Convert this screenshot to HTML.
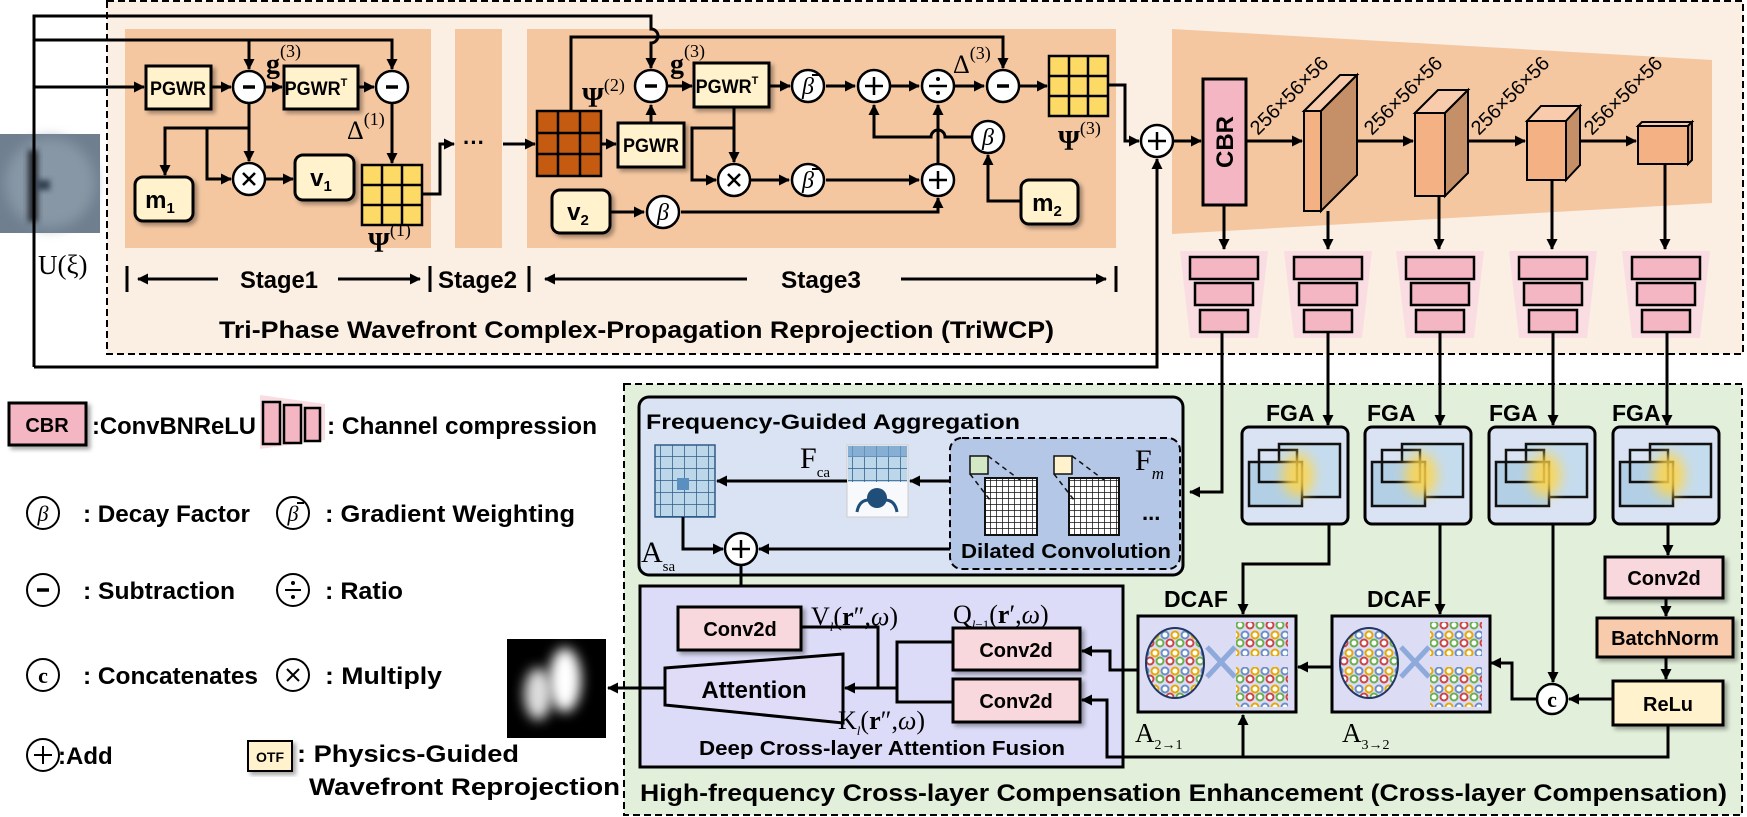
<!DOCTYPE html>
<html><head><meta charset="utf-8"><style>
html,body{margin:0;padding:0;background:#fff}
svg{display:block}
.b{font-family:"Liberation Sans",sans-serif;font-weight:bold}
.s{font-family:"Liberation Serif",serif}
</style></head><body>
<svg width="1747" height="817" viewBox="0 0 1747 817" xmlns="http://www.w3.org/2000/svg">
<defs>
<marker id="a" markerWidth="11" markerHeight="11" refX="10" refY="5.5" orient="auto" markerUnits="userSpaceOnUse"><path d="M0,0 L11,5.5 L0,11 z" fill="#000"/></marker>
<filter id="bl6" x="-50%" y="-50%" width="200%" height="200%"><feGaussianBlur stdDeviation="6"/></filter>
<filter id="bl3" x="-50%" y="-50%" width="200%" height="200%"><feGaussianBlur stdDeviation="3"/></filter>
<filter id="sh" x="-20%" y="-20%" width="140%" height="140%"><feDropShadow dx="3" dy="3" stdDeviation="2" flood-color="#000" flood-opacity="0.35"/></filter>
<pattern id="rings" width="20" height="18" patternUnits="userSpaceOnUse">
<rect width="20" height="18" fill="#dcdcf5"/>
<circle cx="5" cy="5" r="3.5" fill="#fff" stroke="#6b8fc4" stroke-width="2"/>
<circle cx="15" cy="5" r="3.5" fill="#fff" stroke="#e8a800" stroke-width="2"/>
<circle cx="10" cy="13" r="3.5" fill="#fff" stroke="#cc4444" stroke-width="2"/>
<circle cx="0" cy="13" r="3.5" fill="#fff" stroke="#6ab04c" stroke-width="2"/>
<circle cx="20" cy="13" r="3.5" fill="#fff" stroke="#6ab04c" stroke-width="2"/>
</pattern>
<pattern id="grid" width="6" height="6" patternUnits="userSpaceOnUse">
<rect width="6" height="6" fill="#fff"/><path d="M0,0H6M0,0V6" stroke="#111" stroke-width="1.5"/>
</pattern>
<pattern id="lgrid" width="12" height="12" patternUnits="userSpaceOnUse">
<rect width="12" height="12" fill="#bcd6ea"/><path d="M0,0H12M0,0V12" stroke="#2e5b87" stroke-width="1.5"/>
</pattern>
</defs>

<rect x="107" y="1" width="1636" height="353" fill="#fbeee3" stroke="#000" stroke-width="2" stroke-dasharray="7,4"/>
<rect x="125" y="29" width="306" height="219" fill="#f4c7a1"/>
<rect x="455" y="29" width="47" height="219" fill="#f4c7a1"/>
<rect x="527" y="29" width="589" height="219" fill="#f4c7a1"/>
<polygon points="1172,29 1712,60 1712,203 1172,234" fill="#f4c7a1"/>

<rect x="624" y="384" width="1118" height="431" fill="#e2efda" stroke="#000" stroke-width="2" stroke-dasharray="7,4"/>

<rect x="0" y="134" width="100" height="99" fill="#6f7f8f"/>
<ellipse cx="50" cy="183" rx="45" ry="45" fill="#8797a6" filter="url(#bl6)"/>
<rect x="28" y="150" width="10" height="72" fill="#2a2e34" filter="url(#bl3)"/>
<rect x="36" y="180" width="14" height="10" fill="#33414f" filter="url(#bl3)"/>
<text x="38" y="274" class="s" font-size="27">U(ξ)</text>

<g fill="none" stroke="#000" stroke-width="3">
<path d="M34,367 V16 H651 V29 a7,7 0 0 1 0,14 V68" marker-end="url(#a)"/>
<path d="M34,367 H1157 V159" marker-end="url(#a)"/>
<path d="M34,40 H392 V69" marker-end="url(#a)"/>
<path d="M249,40 V69" marker-end="url(#a)"/>
<path d="M34,87 H144" marker-end="url(#a)"/>
<path d="M211,87 H231" marker-end="url(#a)"/>
<path d="M266,87 H282" marker-end="url(#a)"/>
<path d="M358,87 H374" marker-end="url(#a)"/>
<path d="M392,104 V163" marker-end="url(#a)"/>
<path d="M249,104 V161" marker-end="url(#a)"/>
<path d="M249,128 H165 V175" marker-end="url(#a)"/>
<path d="M207,128 V179 H231" marker-end="url(#a)"/>
<path d="M266,179 H293" marker-end="url(#a)"/>
<path d="M422,194 H440 V144 H454" marker-end="url(#a)"/>
<path d="M503,144 H535" marker-end="url(#a)"/>
<path d="M571,111 V37 H1003 V68" marker-end="url(#a)"/>
<path d="M601,144 H616" marker-end="url(#a)"/>
<path d="M651,123 V105" marker-end="url(#a)"/>
<path d="M668,86 H692" marker-end="url(#a)"/>
<path d="M769,86 H790" marker-end="url(#a)"/>
<path d="M826,86 H855" marker-end="url(#a)"/>
<path d="M891,86 H919" marker-end="url(#a)"/>
<path d="M955,86 H984" marker-end="url(#a)"/>
<path d="M1020,86 H1047" marker-end="url(#a)"/>
<path d="M734,107 V162" marker-end="url(#a)"/>
<path d="M734,128 H692 V180 H716" marker-end="url(#a)"/>
<path d="M751,180 H789" marker-end="url(#a)"/>
<path d="M826,180 H919" marker-end="url(#a)"/>
<path d="M938,163 V105" marker-end="url(#a)"/>
<path d="M971,137 H945 a7,7 0 0 0 -14,0 H874 V105" marker-end="url(#a)"/>
<path d="M1021,201 H988 V155" marker-end="url(#a)"/>
<path d="M610,212 H644" marker-end="url(#a)"/>
<path d="M681,212 H938 V198" marker-end="url(#a)"/>
<path d="M1108,85 H1125 V141 H1139" marker-end="url(#a)"/>
<path d="M1173,141 H1201" marker-end="url(#a)"/>
<path d="M1246,141 H1302" marker-end="url(#a)"/>
<path d="M1344,141 H1413" marker-end="url(#a)"/>
<path d="M1462,141 H1525" marker-end="url(#a)"/>
<path d="M1574,141 H1636" marker-end="url(#a)"/>
<path d="M1224,205 V249" marker-end="url(#a)"/>
<path d="M1328,211 V249" marker-end="url(#a)"/>
<path d="M1439,196 V249" marker-end="url(#a)"/>
<path d="M1552,180 V249" marker-end="url(#a)"/>
<path d="M1665,164 V249" marker-end="url(#a)"/>
<path d="M218,279 H138" marker-end="url(#a)"/>
<path d="M338,279 H420" marker-end="url(#a)"/>
<path d="M747,279 H545" marker-end="url(#a)"/>
<path d="M901,279 H1106" marker-end="url(#a)"/>
<path d="M127,266 V292 M430,266 V292 M529,266 V292 M1116,266 V292"/>
</g>

<g stroke="#000" stroke-width="3">
<rect x="146" y="66" width="65" height="43" fill="#fff2cc" filter="url(#sh)"/>
<rect x="284" y="66" width="74" height="43" fill="#fff2cc" filter="url(#sh)"/>
<rect x="135" y="177" width="58" height="44" rx="8" fill="#fff2cc" filter="url(#sh)"/>
<rect x="295" y="155" width="59" height="45" rx="8" fill="#fff2cc" filter="url(#sh)"/>
<rect x="618" y="123" width="66" height="44" fill="#fff2cc" filter="url(#sh)"/>
<rect x="694" y="63" width="75" height="44" fill="#fff2cc" filter="url(#sh)"/>
<rect x="552" y="190" width="58" height="43" rx="8" fill="#fff2cc" filter="url(#sh)"/>
<rect x="1021" y="180" width="57" height="44" rx="8" fill="#fff2cc" filter="url(#sh)"/>
</g>
<g class="b" font-size="19" text-anchor="middle">
<text x="178" y="95" textLength="56" lengthAdjust="spacingAndGlyphs">PGWR</text>
<text x="316" y="95"><tspan textLength="56" lengthAdjust="spacingAndGlyphs">PGWR</tspan><tspan font-size="11" dy="-9">T</tspan></text>
<text x="651" y="152" textLength="56" lengthAdjust="spacingAndGlyphs">PGWR</text>
<text x="727" y="93"><tspan textLength="56" lengthAdjust="spacingAndGlyphs">PGWR</tspan><tspan font-size="11" dy="-9">T</tspan></text>
</g>
<g class="b" font-size="24" text-anchor="middle">
<text x="160" y="208">m<tspan font-size="15" dy="5">1</tspan></text>
<text x="321" y="186">v<tspan font-size="15" dy="5">1</tspan></text>
<text x="578" y="220">v<tspan font-size="15" dy="5">2</tspan></text>
<text x="1047" y="211">m<tspan font-size="15" dy="5">2</tspan></text>
</g>

<g fill="#fff" stroke="#000" stroke-width="2.5">
<circle cx="249" cy="87" r="16"/><circle cx="392" cy="87" r="16"/><circle cx="249" cy="179" r="16"/>
<circle cx="651" cy="86" r="16"/><circle cx="808" cy="86" r="16"/><circle cx="874" cy="86" r="16"/>
<circle cx="938" cy="86" r="16"/><circle cx="1003" cy="86" r="16"/>
<circle cx="734" cy="180" r="16"/><circle cx="808" cy="180" r="16"/><circle cx="938" cy="180" r="16"/>
<circle cx="988" cy="137" r="16"/><circle cx="663" cy="212" r="16"/>
<circle cx="1157" cy="141" r="16"/>
</g>
<g stroke="#000" stroke-width="3.5" fill="none">
<path d="M243,87 H255 M386,87 H398 M645,86 H657 M997,86 H1009"/>
<path d="M243,173 L255,185 M255,173 L243,185 M728,174 L740,186 M740,174 L728,186" stroke-width="2.5"/>
<path d="M874,77 V95 M865,86 H883 M938,171 V189 M929,180 H947 M1157,132 V150 M1148,141 H1166 M929,86 H947" stroke-width="2.5"/>
</g>
<circle cx="938" cy="79" r="2" fill="#000"/><circle cx="938" cy="93" r="2" fill="#000"/>
<g class="s" font-style="italic" font-size="24" text-anchor="middle">
<text x="808" y="94">β</text><text x="808" y="188">β</text><text x="988" y="145">β</text><text x="663" y="220">β</text>
</g>
<path d="M812,75 H819 M812,169 H819" stroke="#000" stroke-width="2"/>

<g stroke="#000" stroke-width="2.5">
<rect x="362" y="165" width="60" height="60" fill="#fdd966"/>
<path d="M382,165 V225 M402,165 V225 M362,185 H422 M362,205 H422"/>
<rect x="537" y="111" width="64" height="65" fill="#c55a11"/>
<path d="M558,111 V176 M580,111 V176 M537,133 H601 M537,154 H601"/>
<rect x="1049" y="56" width="59" height="60" fill="#fdd966"/>
<path d="M1069,56 V116 M1088,56 V116 M1049,76 H1108 M1049,96 H1108"/>
</g>
<text x="463" y="150" class="b" font-size="22">···</text>

<g class="s">
<text x="266" y="73" font-size="28" font-weight="bold">g<tspan font-size="18" dy="-16" font-weight="normal">(3)</tspan></text>
<text x="347" y="139" font-size="26">Δ<tspan font-size="18" dy="-14">(1)</tspan></text>
<text x="368" y="252" font-size="28" font-weight="bold">Ψ<tspan font-size="18" dy="-16" font-weight="normal">(1)</tspan></text>
<text x="582" y="107" font-size="28" font-weight="bold">Ψ<tspan font-size="18" dy="-16" font-weight="normal">(2)</tspan></text>
<text x="670" y="73" font-size="28" font-weight="bold">g<tspan font-size="18" dy="-16" font-weight="normal">(3)</tspan></text>
<text x="953" y="73" font-size="26">Δ<tspan font-size="18" dy="-14">(3)</tspan></text>
<text x="1058" y="150" font-size="28" font-weight="bold">Ψ<tspan font-size="18" dy="-16" font-weight="normal">(3)</tspan></text>
</g>
<g class="b" font-size="24">
<text x="240" y="288" textLength="78" lengthAdjust="spacingAndGlyphs">Stage1</text>
<text x="438" y="288" textLength="79" lengthAdjust="spacingAndGlyphs">Stage2</text>
<text x="781" y="288" textLength="80" lengthAdjust="spacingAndGlyphs">Stage3</text>
<text x="219" y="338" textLength="835" lengthAdjust="spacingAndGlyphs">Tri-Phase Wavefront Complex-Propagation Reprojection (TriWCP)</text>
</g>

<rect x="1203" y="79" width="43" height="126" fill="#f4b6c2" stroke="#000" stroke-width="3"/>
<text transform="translate(1233,142) rotate(-90)" class="b" font-size="24" text-anchor="middle">CBR</text>
<g stroke="#000" stroke-width="2">
<polygon points="1304,111 1340,75 1357,75 1321,111" fill="#f8cbad"/>
<polygon points="1321,111 1357,75 1357,175 1321,211" fill="#c59068"/>
<rect x="1304" y="111" width="17" height="100" fill="#f4b183"/>
<polygon points="1415,113 1438,90 1468,90 1445,113" fill="#f8cbad"/>
<polygon points="1445,113 1468,90 1468,173 1445,196" fill="#c59068"/>
<rect x="1415" y="113" width="30" height="83" fill="#f4b183"/>
<polygon points="1527,121 1541,106 1580,106 1566,121" fill="#f8cbad"/>
<polygon points="1566,121 1580,106 1580,165 1566,180" fill="#c59068"/>
<rect x="1527" y="121" width="39" height="59" fill="#f4b183"/>
<polygon points="1638,126 1642,122 1692,122 1688,126" fill="#f8cbad"/>
<polygon points="1688,126 1692,122 1692,160 1688,164" fill="#c59068"/>
<rect x="1638" y="126" width="50" height="38" fill="#f4b183"/>
</g>
<g font-family="Liberation Sans,sans-serif" font-size="20">
<text transform="translate(1258,136) rotate(-45)">256×56×56</text>
<text transform="translate(1372,136) rotate(-45)">256×56×56</text>
<text transform="translate(1479,136) rotate(-45)">256×56×56</text>
<text transform="translate(1592,136) rotate(-45)">256×56×56</text>
</g>

<g id="cc">
<polygon points="1180,251 1268,251 1258,338 1190,338" fill="#f9dde2"/>
<g fill="#f4b6c2" stroke="#000" stroke-width="2.5">
<rect x="1190" y="257" width="68" height="22"/><rect x="1195" y="283" width="58" height="22"/><rect x="1200" y="310" width="48" height="22"/>
</g>
</g>
<use href="#cc" x="104"/><use href="#cc" x="216"/><use href="#cc" x="329"/><use href="#cc" x="442"/>

<g fill="none" stroke="#000" stroke-width="3">
<path d="M1222,332 V492 H1190" marker-end="url(#a)"/>
<path d="M1328,332 V425" marker-end="url(#a)"/>
<path d="M1440,332 V425" marker-end="url(#a)"/>
<path d="M1553,332 V425" marker-end="url(#a)"/>
<path d="M1667,332 V425" marker-end="url(#a)"/>
</g>

<rect x="639" y="397" width="544" height="178" rx="10" fill="#dae3f3" stroke="#000" stroke-width="3"/>
<text x="646" y="429" class="b" font-size="21" textLength="374" lengthAdjust="spacingAndGlyphs">Frequency-Guided Aggregation</text>
<rect x="950" y="438" width="230" height="131" rx="12" fill="#b4c7e7" stroke="#000" stroke-width="2" stroke-dasharray="7,4"/>
<rect x="655" y="445" width="60" height="72" fill="url(#lgrid)" stroke="#2e5b87" stroke-width="1.5"/>
<rect x="677" y="478" width="12" height="12" fill="#5b8fc0"/>
<rect x="847" y="445" width="61" height="72" fill="#f7f9fc" stroke="#ccc" stroke-width="1"/>
<rect x="848" y="446" width="59" height="36" fill="url(#lgrid)"/>
<rect x="848" y="446" width="59" height="11" fill="#6f9ec9" opacity="0.7"/>
<circle cx="877" cy="498" r="10" fill="#1f4e79"/>
<path d="M857,512 q2,-12 12,-12 M897,512 q-2,-12 -12,-12" stroke="#1f4e79" stroke-width="3" fill="none"/>
<rect x="985" y="478" width="52" height="57" fill="url(#grid)" stroke="#111" stroke-width="2"/>
<rect x="1069" y="478" width="50" height="57" fill="url(#grid)" stroke="#111" stroke-width="2"/>
<rect x="970" y="456" width="18" height="18" fill="#d5e8c5" stroke="#111" stroke-width="1.5"/>
<rect x="1054" y="456" width="18" height="18" fill="#fff2cc" stroke="#111" stroke-width="1.5"/>
<path d="M988,456 L1020,480 M970,474 L990,500 M1072,456 L1104,480 M1054,474 L1074,500" stroke="#111" stroke-width="1.5" stroke-dasharray="5,4"/>
<text x="1135" y="470" class="s" font-size="30">F<tspan font-size="17" font-style="italic" dy="9">m</tspan></text>
<text x="1142" y="520" class="b" font-size="22">...</text>
<text x="961" y="558" class="b" font-size="20" textLength="210" lengthAdjust="spacingAndGlyphs">Dilated Convolution</text>
<text x="800" y="468" class="s" font-size="30">F<tspan font-size="15" dy="9">ca</tspan></text>
<text x="641" y="562" class="s" font-size="30">A<tspan font-size="15" dy="9">sa</tspan></text>
<g fill="none" stroke="#000" stroke-width="3">
<path d="M950,481 H910" marker-end="url(#a)"/>
<path d="M847,481 H717" marker-end="url(#a)"/>
<path d="M683,517 V549 H723" marker-end="url(#a)"/>
<path d="M950,549 H759" marker-end="url(#a)"/>
<path d="M741,565 V605" marker-end="url(#a)"/>
</g>
<circle cx="741" cy="549" r="16" fill="#fff" stroke="#000" stroke-width="2.5"/>
<path d="M741,540 V558 M732,549 H750" stroke="#000" stroke-width="2.5"/>

<g id="fga">
<rect x="1242" y="427" width="106" height="97" rx="7" fill="#dae3f3" stroke="#000" stroke-width="3"/>
<rect x="1279" y="444" width="61" height="53" fill="#c5dcee" stroke="#111" stroke-width="2.5"/>
<rect x="1249" y="462" width="53" height="44" fill="#b2cfe6" stroke="#111" stroke-width="2.5"/>
<rect x="1259" y="450" width="38" height="32" fill="none" stroke="#111" stroke-width="2.5"/>
<ellipse cx="1298" cy="475" rx="16" ry="22" fill="#ffd54a" opacity="0.85" filter="url(#bl6)"/>
</g>
<use href="#fga" x="123"/><use href="#fga" x="247"/><use href="#fga" x="371"/>
<g class="b" font-size="23">
<text x="1266" y="421">FGA</text><text x="1367" y="421">FGA</text><text x="1489" y="421">FGA</text><text x="1612" y="421">FGA</text>
</g>

<g id="dcaf">
<rect x="1138" y="616" width="158" height="96" fill="#dcdcf5" stroke="#000" stroke-width="3"/>
<ellipse cx="1175" cy="663" rx="29" ry="35" fill="url(#rings)" stroke="#1f3864" stroke-width="2"/>
<rect x="1236" y="622" width="52" height="34" fill="url(#rings)"/>
<rect x="1236" y="667" width="52" height="40" fill="url(#rings)"/>
<path d="M1207,647 L1235,677 M1207,677 L1235,647" stroke="#8eaadb" stroke-width="5"/>
</g>
<use href="#dcaf" x="194"/>
<g class="b" font-size="23"><text x="1164" y="607">DCAF</text><text x="1367" y="607">DCAF</text></g>
<text x="1135" y="742" class="s" font-size="27">A<tspan font-size="14" dy="7">2→1</tspan></text>
<text x="1342" y="742" class="s" font-size="27">A<tspan font-size="14" dy="7">3→2</tspan></text>

<rect x="1605" y="557" width="118" height="41" fill="#f8d7dd" stroke="#000" stroke-width="3" filter="url(#sh)"/>
<rect x="1597" y="618" width="136" height="39" fill="#f8cbad" stroke="#000" stroke-width="3" filter="url(#sh)"/>
<rect x="1613" y="681" width="110" height="44" fill="#fff2cc" stroke="#000" stroke-width="3" filter="url(#sh)"/>
<g class="b" font-size="20" text-anchor="middle">
<text x="1664" y="585">Conv2d</text><text x="1665" y="645">BatchNorm</text><text x="1668" y="711">ReLu</text>
</g>
<circle cx="1552" cy="699" r="15" fill="#fff" stroke="#000" stroke-width="2.5"/>
<text x="1552" y="707" class="s" font-weight="bold" font-size="22" text-anchor="middle">c</text>

<g fill="none" stroke="#000" stroke-width="3">
<path d="M1329,524 V564 H1243 V614" marker-end="url(#a)"/>
<path d="M1440,524 V614" marker-end="url(#a)"/>
<path d="M1553,524 V682" marker-end="url(#a)"/>
<path d="M1668,524 V555" marker-end="url(#a)"/>
<path d="M1666,598 V616" marker-end="url(#a)"/>
<path d="M1666,657 V679" marker-end="url(#a)"/>
<path d="M1613,699 H1569" marker-end="url(#a)"/>
<path d="M1537,699 H1512 V663 H1491" marker-end="url(#a)"/>
<path d="M1332,667 H1298" marker-end="url(#a)"/>
</g>

<rect x="640" y="586" width="483" height="181" fill="#dcdcf8" stroke="#000" stroke-width="3"/>
<rect x="678" y="607" width="123" height="43" fill="#f8d7dd" stroke="#000" stroke-width="3" filter="url(#sh)"/>
<rect x="953" y="628" width="127" height="42" fill="#f8d7dd" stroke="#000" stroke-width="3" filter="url(#sh)"/>
<rect x="953" y="679" width="127" height="43" fill="#f8d7dd" stroke="#000" stroke-width="3" filter="url(#sh)"/>
<polygon points="665,668 843,654 843,723 665,705" fill="#e0dcf8" stroke="#000" stroke-width="3"/>
<g class="b" font-size="20" text-anchor="middle">
<text x="740" y="636">Conv2d</text><text x="1016" y="657">Conv2d</text><text x="1016" y="708">Conv2d</text>
<text x="754" y="698" font-size="24">Attention</text>
<text x="882" y="755" textLength="366" lengthAdjust="spacingAndGlyphs">Deep Cross-layer Attention Fusion</text>
</g>
<g class="s" font-size="26">
<text x="811" y="625">V<tspan font-size="13" font-style="italic" dy="6">l</tspan><tspan dy="-6">(</tspan><tspan font-weight="bold">r</tspan>″,<tspan font-style="italic">ω</tspan>)</text>
<text x="953" y="623">Q<tspan font-size="13" dy="6"><tspan font-style="italic">l</tspan>−1</tspan><tspan dy="-6">(</tspan><tspan font-weight="bold">r</tspan>′,<tspan font-style="italic">ω</tspan>)</text>
<text x="838" y="729">K<tspan font-size="13" font-style="italic" dy="6">l</tspan><tspan dy="-6">(</tspan><tspan font-weight="bold">r</tspan>″,<tspan font-style="italic">ω</tspan>)</text>
</g>
<g fill="none" stroke="#000" stroke-width="3">
<path d="M801,627 H878 V688"/>
<path d="M953,642 H897 V702 H953"/>
<path d="M897,688 H845" marker-end="url(#a)"/>
<path d="M665,688 H608" marker-end="url(#a)"/>
<path d="M1138,670 H1110 V651 H1082" marker-end="url(#a)"/>
<path d="M1668,725 V757 H1107 V700 H1082" marker-end="url(#a)"/>
<path d="M1243,757 V715" marker-end="url(#a)"/>
</g>

<rect x="507" y="639" width="99" height="99" fill="#000"/>
<ellipse cx="538" cy="694" rx="14" ry="26" fill="#ddd" filter="url(#bl6)"/>
<ellipse cx="565" cy="680" rx="16" ry="32" fill="#fff" filter="url(#bl6)"/>

<text x="640" y="801" class="b" font-size="24" textLength="1087" lengthAdjust="spacingAndGlyphs">High-frequency Cross-layer Compensation Enhancement (Cross-layer Compensation)</text>

<rect x="9" y="403" width="77" height="42" fill="#f4b6c2" stroke="#000" stroke-width="3" filter="url(#sh)"/>
<text x="47" y="432" class="b" font-size="20" text-anchor="middle">CBR</text>
<text x="92" y="434" class="b" font-size="24" textLength="164" lengthAdjust="spacingAndGlyphs">:ConvBNReLU</text>
<polygon points="260,395 325,404 325,440 260,449" fill="#f9dde2"/>
<g fill="#f4b6c2" stroke="#000" stroke-width="2.5">
<rect x="263" y="402" width="17" height="42"/><rect x="284" y="405" width="17" height="38"/><rect x="305" y="408" width="15" height="33"/>
</g>
<text x="327" y="434" class="b" font-size="24" textLength="270" lengthAdjust="spacingAndGlyphs">: Channel compression</text>
<g fill="#fff" stroke="#000" stroke-width="2">
<circle cx="43" cy="513" r="16"/><circle cx="293" cy="513" r="16"/>
<circle cx="43" cy="590" r="16"/><circle cx="293" cy="590" r="16"/>
<circle cx="43" cy="675" r="16"/><circle cx="293" cy="675" r="16"/>
<circle cx="43" cy="755" r="16"/>
</g>
<g class="s" font-style="italic" font-size="22" text-anchor="middle"><text x="43" y="521">β</text><text x="293" y="521">β</text></g>
<path d="M297,503 H304" stroke="#000" stroke-width="2"/>
<path d="M37,590 H49" stroke="#000" stroke-width="3.5"/>
<path d="M285,590 H301 M287,669 L299,681 M299,669 L287,681 M43,746 V764 M34,755 H52" stroke="#000" stroke-width="2"/>
<circle cx="293" cy="583" r="2" fill="#000"/><circle cx="293" cy="597" r="2" fill="#000"/>
<text x="43" y="683" class="s" font-weight="bold" font-size="22" text-anchor="middle">c</text>
<g class="b" font-size="24">
<text x="83" y="522" textLength="167" lengthAdjust="spacingAndGlyphs">: Decay Factor</text>
<text x="325" y="522" textLength="250" lengthAdjust="spacingAndGlyphs">: Gradient Weighting</text>
<text x="83" y="599" textLength="152" lengthAdjust="spacingAndGlyphs">: Subtraction</text>
<text x="325" y="599" textLength="78" lengthAdjust="spacingAndGlyphs">: Ratio</text>
<text x="83" y="684" textLength="175" lengthAdjust="spacingAndGlyphs">: Concatenates</text>
<text x="325" y="684" textLength="117" lengthAdjust="spacingAndGlyphs">: Multiply</text>
<text x="58" y="764">:Add</text>
<text x="297" y="762" textLength="222" lengthAdjust="spacingAndGlyphs">: Physics-Guided</text>
<text x="309" y="795" textLength="311" lengthAdjust="spacingAndGlyphs">Wavefront Reprojection</text>
</g>
<rect x="248" y="741" width="44" height="30" fill="#fff2cc" stroke="#000" stroke-width="2" filter="url(#sh)"/>
<text x="270" y="762" class="b" font-size="14" text-anchor="middle">OTF</text>
</svg>
</body></html>
